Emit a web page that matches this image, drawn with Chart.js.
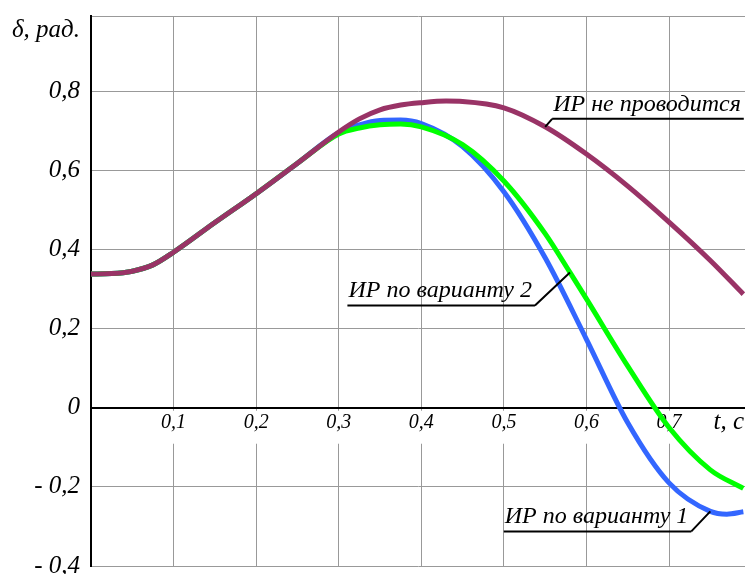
<!DOCTYPE html>
<html lang="ru">
<head>
<meta charset="utf-8">
<title>δ(t)</title>
<script src="https://cdn.jsdelivr.net/npm/chart.js@4/dist/chart.umd.min.js"></script>
<style>
  html, body { margin: 0; padding: 0; background: #fff; }
  #wrap { width: 745px; height: 574px; }
</style>
</head>
<body>
<div id="wrap"><canvas id="deltaChart" width="745" height="574"></canvas></div>
<script>
// время, с
const tNoControl = [0, 0.025, 0.05, 0.075, 0.1, 0.15, 0.2, 0.25, 0.3, 0.325, 0.35, 0.375, 0.4, 0.43, 0.45, 0.5, 0.55, 0.6, 0.65, 0.7, 0.75, 0.79];
const tVariant1 = [0, 0.025, 0.05, 0.075, 0.1, 0.15, 0.2, 0.25, 0.3, 0.325, 0.35, 0.375, 0.4, 0.45, 0.5, 0.55, 0.6, 0.65, 0.7, 0.75, 0.77, 0.79];
const tVariant2 = [0, 0.025, 0.05, 0.075, 0.1, 0.15, 0.2, 0.25, 0.3, 0.325, 0.35, 0.375, 0.4, 0.45, 0.5, 0.55, 0.58, 0.6, 0.65, 0.7, 0.75, 0.79];

// угол δ, рад.
const noControl = [0.338, 0.339, 0.345, 0.361, 0.393, 0.468, 0.541, 0.618, 0.697, 0.730, 0.753, 0.765, 0.771, 0.775, 0.774, 0.758, 0.710, 0.641, 0.560, 0.469, 0.372, 0.287];
const variant1 = [0.338, 0.339, 0.345, 0.361, 0.393, 0.468, 0.541, 0.618, 0.695, 0.715, 0.726, 0.727, 0.718, 0.660, 0.546, 0.379, 0.173, -0.038, -0.190, -0.262, -0.269, -0.263];
const variant2 = [0.338, 0.339, 0.345, 0.361, 0.393, 0.468, 0.541, 0.618, 0.692, 0.707, 0.715, 0.717, 0.710, 0.665, 0.573, 0.440, 0.342, 0.275, 0.105, -0.050, -0.157, -0.204];

const seriesNames = ['ИР не проводится', 'ИР по варианту 2', 'ИР по варианту 1'];

const xTicks = [0.1, 0.2, 0.3, 0.4, 0.5, 0.6, 0.7];
const xTickLabels = ['0,1', '0,2', '0,3', '0,4', '0,5', '0,6', '0,7'];
const yTicks = [-0.4, -0.2, 0, 0.2, 0.4, 0.6, 0.8];
const yTickLabels = ['- 0,4', '- 0,2', '0', '0,2', '0,4', '0,6', '0,8'];
const xTitle = 't, c';
const yTitle = 'δ, рад.';

const serif = 'Liberation Serif';
const toPoints = (ts, vs) => ts.map((t, i) => ({ x: t, y: vs[i] }));

// подписи кривых с выносками
const notes = [
    { ds: 0, t: 0.55, dx: 7, dy: -8, side: 'right' },
    { ds: 1, t: 0.58, dx: -35, dy: 33, side: 'left' },
    { ds: 2, t: 0.75, dx: -19, dy: 20, side: 'left' },
];

const captions = {
    id: 'captions',
    afterDatasetsDraw(chart) {
        const { ctx, chartArea } = chart;
        const yScale = chart.scales.y;
        ctx.save();
        ctx.fillStyle = '#000';
        ctx.font = 'italic 25px "' + serif + '"';
        ctx.textBaseline = 'middle';
        ctx.textAlign = 'right';
        ctx.fillText(yTitle, yScale.right - 11, chartArea.top + 14);
        ctx.fillText(xTitle, chartArea.right - 1, yScale.getPixelForValue(0) + 15);

        ctx.font = 'italic 24px "' + serif + '"';
        ctx.textAlign = 'left';
        ctx.textBaseline = 'alphabetic';
        ctx.strokeStyle = '#000';
        ctx.lineWidth = 2;
        notes.forEach(n => {
            const meta = chart.getDatasetMeta(n.ds);
            const idx = chart.data.datasets[n.ds].data.findIndex(p => p.x === n.t);
            const pt = meta.data[idx];
            const ex = pt.x + n.dx, ey = pt.y + n.dy;
            const text = seriesNames[n.ds];
            const w = ctx.measureText(text).width;
            const x0 = n.side === 'right' ? ex : ex - w - 4;
            const x1 = n.side === 'right' ? ex + w + 4 : ex;
            ctx.beginPath();
            ctx.moveTo(pt.x, pt.y);
            ctx.lineTo(ex, ey);
            ctx.moveTo(x0, ey);
            ctx.lineTo(x1, ey);
            ctx.stroke();
            ctx.fillText(text, x0 + 1, ey - 8);
        });
        ctx.restore();
    }
};

new Chart(document.getElementById('deltaChart'), {
    type: 'line',
    data: {
        datasets: [
            { label: seriesNames[0], data: toPoints(tNoControl, noControl), borderColor: '#993366' },
            { label: seriesNames[1], data: toPoints(tVariant2, variant2), borderColor: '#00ff00' },
            { label: seriesNames[2], data: toPoints(tVariant1, variant1), borderColor: '#3366ff' },
        ]
    },
    options: {
        responsive: false,
        animation: false,
        layout: { padding: { top: 16, right: 0, bottom: 8, left: 0 } },
        elements: {
            line: { borderWidth: 5, cubicInterpolationMode: 'monotone', fill: false },
            point: { radius: 0, hoverRadius: 0 }
        },
        plugins: {
            legend: { display: false },
            tooltip: { enabled: false },
            title: { display: false }
        },
        scales: {
            x: {
                type: 'linear',
                position: { y: 0 },
                min: 0,
                max: 0.792,
                afterBuildTicks: s => { s.ticks = xTicks.map(v => ({ value: v })); },
                afterFit: s => { s.paddingLeft = 0; s.paddingRight = 0; },
                grid: { color: '#999', lineWidth: 1, drawTicks: false, z: -1 },
                border: { color: '#000', width: 2 },
                ticks: {
                    callback: (v, i) => xTickLabels[i],
                    autoSkip: false,
                    maxRotation: 0,
                    padding: 3,
                    color: '#000',
                    font: { family: serif, size: 20, style: 'italic' },
                    showLabelBackdrop: true,
                    backdropColor: '#fff',
                    backdropPadding: { top: 0, bottom: 9, left: 3, right: 3 }
                }
            },
            y: {
                type: 'linear',
                position: 'left',
                min: -0.4,
                max: 0.99,
                afterBuildTicks: s => {
                    s.ticks = yTicks.map(v => ({ value: v }));
                    s.ticks.push({ value: s.max });
                },
                afterFit: s => { s.width = 91; s.paddingTop = 0; s.paddingBottom = 0; },
                grid: { color: '#999', lineWidth: 1, drawTicks: false, z: -1 },
                border: { color: '#000', width: 2 },
                ticks: {
                    callback: (v, i) => yTickLabels[i] || '',
                    autoSkip: false,
                    padding: 11,
                    color: '#000',
                    font: { family: serif, size: 25, style: 'italic' }
                }
            }
        }
    },
    plugins: [captions]
});
</script>
</body>
</html>
